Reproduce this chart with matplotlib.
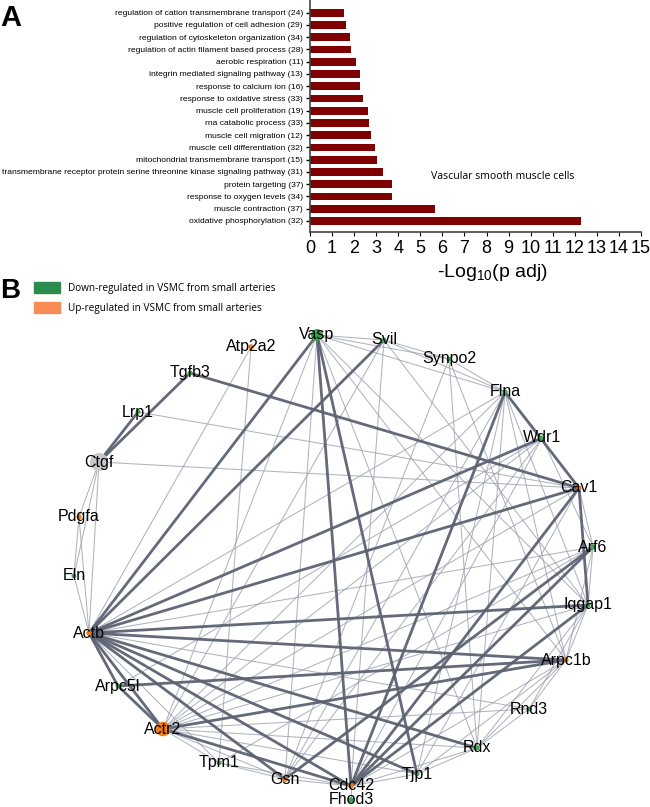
import matplotlib
matplotlib.use("Agg")
import matplotlib.pyplot as plt
from matplotlib.patches import Rectangle

plt.rcParams['font.family'] = ['Liberation Sans', 'DejaVu Sans']
plt.rcParams['mathtext.fontset'] = 'custom'
plt.rcParams['mathtext.rm'] = 'Liberation Sans'

# ---- panel A data (top to bottom)
terms = [
    "regulation of cation transmembrane transport (24)",
    "positive regulation of cell adhesion (29)",
    "regulation of cytoskeleton organization (34)",
    "regulation of actin filament based process (28)",
    "aerobic respiration (11)",
    "integrin mediated signaling pathway (13)",
    "response to calcium ion (16)",
    "response to oxidative stress (33)",
    "muscle cell proliferation (19)",
    "rna catabolic process (33)",
    "muscle cell migration (12)",
    "muscle cell differentiation (32)",
    "mitochondrial transmembrane transport (15)",
    "transmembrane receptor protein serine threonine kinase signaling pathway (31)",
    "protein targeting (37)",
    "response to oxygen levels (34)",
    "muscle contraction (37)",
    "oxidative phosphorylation (32)",
]
neglog_padj = [1.55, 1.65, 1.81, 1.86, 2.07, 2.28, 2.28, 2.42, 2.61,
               2.69, 2.75, 2.95, 3.05, 3.31, 3.70, 3.70, 5.65, 12.3]
xticks = list(range(0, 16))

# ---- panel B data: node layout (pixel space of the figure), regulation, size
nodes = ["Vasp", "Svil", "Synpo2", "Flna", "Wdr1", "Cav1", "Arf6", "Iqgap1",
         "Arpc1b", "Rnd3", "Rdx", "Tjp1", "Cdc42", "Fhod3", "Gsn", "Tpm1",
         "Actr2", "Arpc5l", "Actb", "Eln", "Pdgfa", "Ctgf", "Lrp1", "Tgfb3", "Atp2a2"]
node_x = [317, 384, 449, 505, 542, 579, 593, 588, 566, 529, 477, 417, 351, 351,
          285, 219, 163, 118, 89, 74, 79, 99, 138, 190, 251]
node_y = [335, 340, 359, 392, 438, 488, 547, 605, 660, 709, 748, 774, 786, 800,
          779, 763, 729, 686, 633, 576, 517, 462, 412, 373, 347]
node_reg = ["down", "down", "down", "down", "down", "up", "down", "down",
            "up", "down", "down", "down", "up", "down", "up", "down",
            "up", "down", "up", "down", "up", "none", "down", "down", "up"]
node_size = [75, 12, 12, 14, 12, 14, 14, 14, 14, 12, 12, 12, 16, 16,
             16, 12, 110, 12, 16, 12, 14, 170, 12, 12, 16]

thick_edges = [
    ("Ctgf", "Lrp1"), ("Ctgf", "Tgfb3"), ("Actb", "Vasp"), ("Actb", "Svil"),
    ("Actb", "Wdr1"), ("Actb", "Cav1"), ("Actb", "Iqgap1"), ("Actb", "Arpc1b"),
    ("Actb", "Rdx"), ("Actb", "Cdc42"), ("Actb", "Tjp1"), ("Actb", "Actr2"),
    ("Actb", "Arpc5l"), ("Actb", "Gsn"), ("Vasp", "Cdc42"), ("Vasp", "Tjp1"),
    ("Flna", "Cdc42"), ("Flna", "Cav1"), ("Cav1", "Cdc42"), ("Cav1", "Iqgap1"),
    ("Arf6", "Cdc42"), ("Iqgap1", "Cdc42"), ("Arpc1b", "Actr2"),
    ("Arpc1b", "Arpc5l"), ("Actr2", "Cdc42"), ("Actr2", "Arpc5l"),
    ("Tgfb3", "Cav1"), ("Arf6", "Gsn"),
]
thin_edges = [
    ("Ctgf", "Pdgfa"), ("Ctgf", "Eln"), ("Ctgf", "Actb"), ("Ctgf", "Cav1"),
    ("Lrp1", "Cav1"), ("Pdgfa", "Actb"), ("Pdgfa", "Eln"), ("Eln", "Actb"),
    ("Atp2a2", "Actb"), ("Atp2a2", "Tpm1"), ("Vasp", "Svil"), ("Vasp", "Flna"),
    ("Vasp", "Synpo2"), ("Vasp", "Actr2"), ("Vasp", "Gsn"), ("Vasp", "Rdx"),
    ("Vasp", "Arpc1b"), ("Vasp", "Iqgap1"), ("Svil", "Synpo2"), ("Svil", "Flna"),
    ("Svil", "Cdc42"), ("Svil", "Iqgap1"), ("Svil", "Actr2"), ("Synpo2", "Flna"),
    ("Synpo2", "Gsn"), ("Synpo2", "Rdx"), ("Synpo2", "Arpc1b"), ("Flna", "Wdr1"),
    ("Flna", "Actb"), ("Flna", "Actr2"), ("Flna", "Arpc1b"), ("Flna", "Iqgap1"),
    ("Flna", "Tjp1"), ("Flna", "Rdx"), ("Flna", "Gsn"), ("Wdr1", "Cdc42"),
    ("Wdr1", "Arpc5l"), ("Wdr1", "Gsn"), ("Wdr1", "Arf6"), ("Wdr1", "Actr2"),
    ("Cav1", "Arf6"), ("Cav1", "Actr2"), ("Cav1", "Tjp1"), ("Arf6", "Actb"),
    ("Arf6", "Iqgap1"), ("Arf6", "Actr2"), ("Arf6", "Arpc1b"), ("Arf6", "Tpm1"),
    ("Iqgap1", "Rnd3"), ("Iqgap1", "Rdx"), ("Iqgap1", "Actr2"),
    ("Iqgap1", "Arpc1b"), ("Arpc1b", "Rnd3"), ("Arpc1b", "Cdc42"),
    ("Arpc1b", "Rdx"), ("Arpc1b", "Tjp1"), ("Rnd3", "Actb"), ("Rnd3", "Rdx"),
    ("Rnd3", "Actr2"), ("Rdx", "Cdc42"), ("Rdx", "Tjp1"), ("Rdx", "Actr2"),
    ("Tjp1", "Cdc42"), ("Tjp1", "Actr2"), ("Cdc42", "Fhod3"), ("Cdc42", "Gsn"),
    ("Cdc42", "Tpm1"), ("Gsn", "Actr2"), ("Gsn", "Tpm1"), ("Tpm1", "Actr2"),
    ("Tpm1", "Actb"),
]

colors = {"down": "#3aa64c", "up": "#ef7d12", "none": "#c8c8c8"}

W, H = 650, 807
fig = plt.figure(figsize=(W / 100, H / 100), dpi=100)

# ---- network (figure-pixel data coordinates)
axn = fig.add_axes([0, 0, 1, 1])
axn.set_xlim(0, W)
axn.set_ylim(H, 0)
axn.axis("off")
pos = {n: (x, y) for n, x, y in zip(nodes, node_x, node_y)}
for u, v in thin_edges:
    axn.plot([pos[u][0], pos[v][0]], [pos[u][1], pos[v][1]],
             color="#9ca1ae", lw=0.75, alpha=0.8, zorder=1)
for u, v in thick_edges:
    axn.plot([pos[u][0], pos[v][0]], [pos[u][1], pos[v][1]],
             color="#5c6272", lw=2.0, alpha=0.95, zorder=2)
axn.scatter(node_x, node_y, s=node_size, c=[colors[r] for r in node_reg],
            zorder=3, linewidths=0)
for n, x, y in zip(nodes, node_x, node_y):
    axn.text(x, y, n, fontsize=11.5, ha="center", va="center", zorder=4)

# legend + panel letters
axn.add_patch(Rectangle((34, 282), 26, 11, color="#2e8b4e", zorder=5))
axn.add_patch(Rectangle((34, 302), 26, 11, color="#f98b57", zorder=5))
axn.text(68, 288, "Down-regulated in VSMC from small arteries", fontsize=7.2,
         family=["Open Sans", "DejaVu Sans"], va="center")
axn.text(68, 308, "Up-regulated in VSMC from small arteries", fontsize=7.2,
         family=["Open Sans", "DejaVu Sans"], va="center")
axn.text(0, 18, "A", fontsize=21, fontweight="bold", va="center")
axn.text(0, 291, "B", fontsize=20, fontweight="bold", va="center")

# ---- bar chart
axb = fig.add_axes([310 / W, 1 - 232 / H, 331 / W, 232 / H])
ypos = list(range(len(terms)))
axb.barh(ypos, neglog_padj, height=0.62, color="#7e0000")
axb.set_ylim(17.9, -1.04)
axb.set_xlim(0, 15)
axb.set_yticks(ypos)
axb.set_yticklabels(terms, fontsize=6.1)
axb.set_xticks(xticks)
axb.set_xticklabels([str(t) for t in xticks], fontsize=13)
axb.tick_params(axis="y", length=3, width=1, pad=2)
axb.tick_params(axis="x", length=3, width=0.8, pad=3)
for s in ["top", "right"]:
    axb.spines[s].set_visible(False)
for s in ["left", "bottom"]:
    axb.spines[s].set_color("#444444")
    axb.spines[s].set_linewidth(1.2)
axb.set_xlabel("-Log$_{10}$(p adj)", fontsize=14)
axb.xaxis.set_label_coords(0.55, -0.13)
axb.text(8.75, 13.4, "Vascular smooth muscle cells", fontsize=7.6,
         family=["Open Sans", "DejaVu Sans"], ha="center", va="center")

fig.savefig("out.png", dpi=100)
